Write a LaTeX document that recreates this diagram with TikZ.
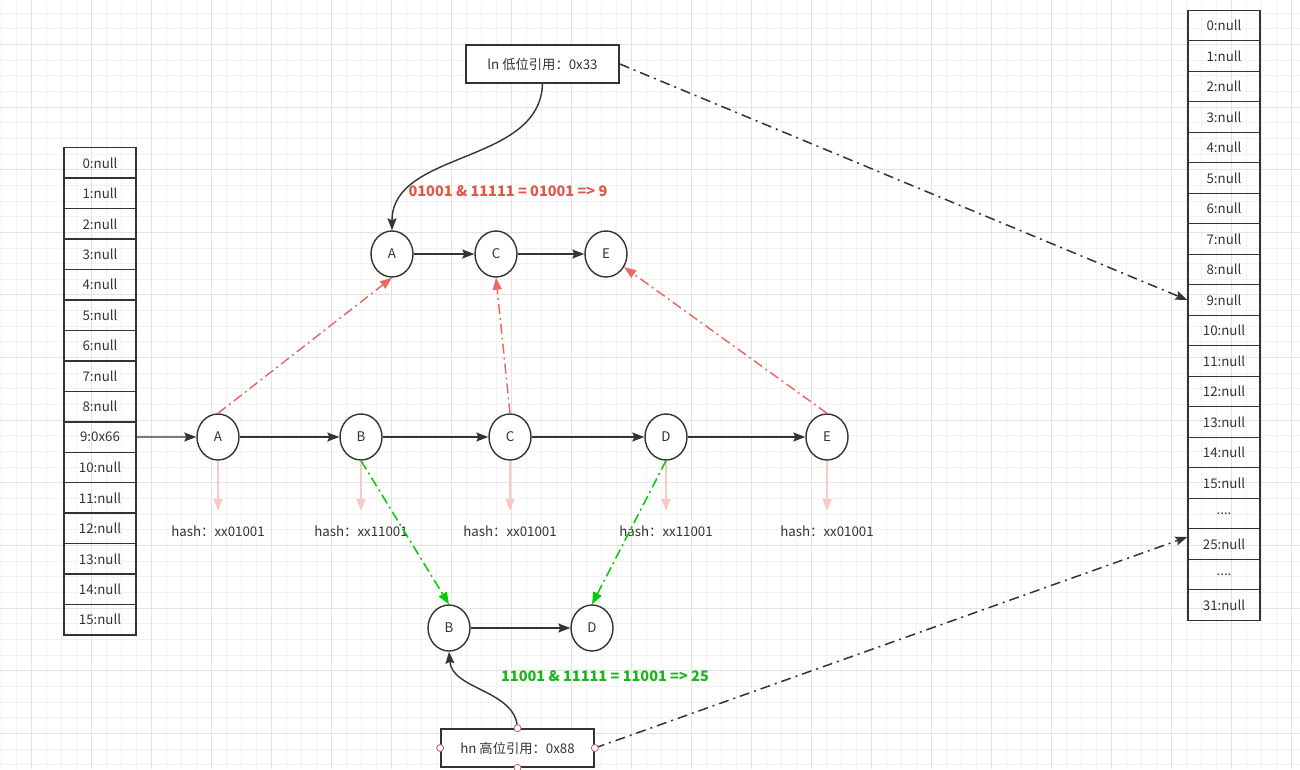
\documentclass[tikz,border=0pt]{standalone}
\usepackage{fontspec}
\setmainfont{Noto Sans CJK SC}
\usetikzlibrary{arrows.meta,shapes.geometric}

\definecolor{linec}{HTML}{333333}
\definecolor{gridmin}{HTML}{F2F2F2}
\definecolor{gridmaj}{HTML}{E3E3E3}
\definecolor{lored}{HTML}{EA6B66}
\definecolor{lotext}{HTML}{E0584A}
\definecolor{higreen}{HTML}{00CC00}
\definecolor{hitext}{HTML}{1DB31D}
\definecolor{hashpink}{HTML}{F8CAC6}
\definecolor{handlec}{HTML}{C06060}

\newcommand\fourdots{....}
\newcommand\txt{\fontsize{13.3}{15}\selectfont}
\newcommand\boldtxt{\fontsize{14.5}{16}\selectfont\bfseries}

\begin{document}
\begin{tikzpicture}[x=1pt, y=-1pt,
  cell/.style={draw=linec, line width=1.4pt, minimum width=72pt, minimum height=30.5pt, inner sep=0pt, font=\txt, text=linec},
  hnode/.style={ellipse, draw=linec, line width=1.4pt, minimum width=42pt, minimum height=46pt, inner sep=0pt, fill=white, font=\txt, text=linec},
  headbox/.style={draw=linec, line width=1.6pt, minimum width=153pt, minimum height=38pt, inner sep=0pt, fill=white, font=\txt, text=linec},
  hashlbl/.style={minimum height=40pt, inner sep=0pt, font=\txt, text=linec},
  arr/.style={-{Stealth[length=12pt, width=9pt, inset=2pt]}, line width=1.4pt, draw=linec},
  hasharr/.style={-{Triangle[length=12pt, width=9pt]}, line width=1.6pt, draw=hashpink},
  loarr/.style={-{Triangle[length=12pt, width=9pt]}, line width=1.5pt, draw=lored, dash pattern=on 10pt off 4pt on 2pt off 4pt},
  hiarr/.style={-{Triangle[length=12pt, width=9pt]}, line width=1.5pt, draw=higreen, dash pattern=on 10pt off 4pt on 2pt off 4pt},
  refarr/.style={-{Stealth[length=12pt, width=9pt, inset=2pt]}, line width=1.5pt, draw=linec, dash pattern=on 10pt off 5pt on 2pt off 5pt},
  handle/.style={circle, draw=handlec, fill=white, line width=0.8pt, minimum size=7pt, inner sep=0pt}
]
  \useasboundingbox (0,0) rectangle (1300,769);
  \fill[white] (0,0) rectangle (1300,769);

  % background grid
  \foreach \k in {0,...,86} \draw[gridmin, line width=0.8pt] ({1+15*\k},0) -- ({1+15*\k},769);
  \foreach \k in {0,...,48} \draw[gridmin, line width=0.8pt] (0,{13+15.66*\k}) -- (1300,{13+15.66*\k});
  \foreach \k in {0,...,21} \draw[gridmaj, line width=0.8pt] ({31+60*\k},0) -- ({31+60*\k},769);
  \foreach \k in {0,...,11} \draw[gridmaj, line width=0.8pt] (0,{44.3+62.64*\k}) -- (1300,{44.3+62.64*\k});

  % old table, 16 buckets
  \foreach \t [count=\i from 0] in {0:null,1:null,2:null,3:null,4:null,5:null,6:null,7:null,
      8:null,9:0x66,10:null,11:null,12:null,13:null,14:null,15:null}
    \node[cell] (L\i) at (100,{162.95+30.45*\i}) {\t};

  % new table, 32 buckets
  \foreach \t [count=\i from 0] in {0:null,1:null,2:null,3:null,4:null,5:null,6:null,7:null,
      8:null,9:null,10:null,11:null,12:null,13:null,14:null,15:null,\fourdots,25:null,\fourdots,31:null}
    \node[cell] (R\i) at (1224,{25.5+30.5*\i}) {\t};

  % original chain
  \node[hnode] (mA) at (218,437) {A};
  \node[hnode] (mB) at (361,437) {B};
  \node[hnode] (mC) at (510,437) {C};
  \node[hnode] (mD) at (666,437) {D};
  \node[hnode] (mE) at (827,437) {E};

  \node[hashlbl] (kA) at (218,531) {hash：xx01001};
  \node[hashlbl] (kB) at (361,531) {hash：xx11001};
  \node[hashlbl] (kC) at (510,531) {hash：xx01001};
  \node[hashlbl] (kD) at (666,531) {hash：xx11001};
  \node[hashlbl] (kE) at (827,531) {hash：xx01001};

  % low chain
  \node[hnode] (tA) at (392,254) {A};
  \node[hnode] (tC) at (496,254) {C};
  \node[hnode] (tE) at (606,254) {E};

  % high chain
  \node[hnode] (bB) at (449,628) {B};
  \node[hnode] (bD) at (592,628) {D};

  % heads
  \node[headbox] (lnbox) at (542.5,64) {ln 低位引用：0x33};
  \node[headbox] (hnbox) at (517.5,748) {hn 高位引用：0x88};

  \node[font=\boldtxt, text=lotext] (lolbl) at (508,191) {01001 \& 11111 = 01001 => 9};
  \node[font=\boldtxt, text=hitext] (hilbl) at (605,676) {11001 \& 11111 = 11001 => 25};

  \foreach \n in {A,B,C,D,E}
    \draw[hasharr] (m\n.south) -- (k\n.north);

  \draw[arr] (L9) -- (mA);
  \draw[arr] (mA) -- (mB);
  \draw[arr] (mB) -- (mC);
  \draw[arr] (mC) -- (mD);
  \draw[arr] (mD) -- (mE);
  \draw[arr] (tA) -- (tC);
  \draw[arr] (tC) -- (tE);
  \draw[arr] (bB) -- (bD);

  \draw[loarr] (mA.north) -- (tA.south);
  \draw[loarr] (mC.north) -- (tC.south);
  \draw[loarr] (mE.north) -- (tE);
  \draw[hiarr] (mB.south) -- (bB.north);
  \draw[hiarr] (mD.south) -- (bD.north);

  \draw[arr] (lnbox.south) .. controls (540,165) and (392,150) .. (tA.north);
  \draw[arr] (hnbox.north) .. controls (516,690) and (452,690) .. (bB.south);

  \draw[refarr] (lnbox.east) -- (R9.west);
  \draw[refarr] (hnbox.east) -- ([yshift=7pt]R17.west);

  \foreach \a in {north,south,east,west}
    \node[handle] at (hnbox.\a) {};
\end{tikzpicture}
\end{document}
